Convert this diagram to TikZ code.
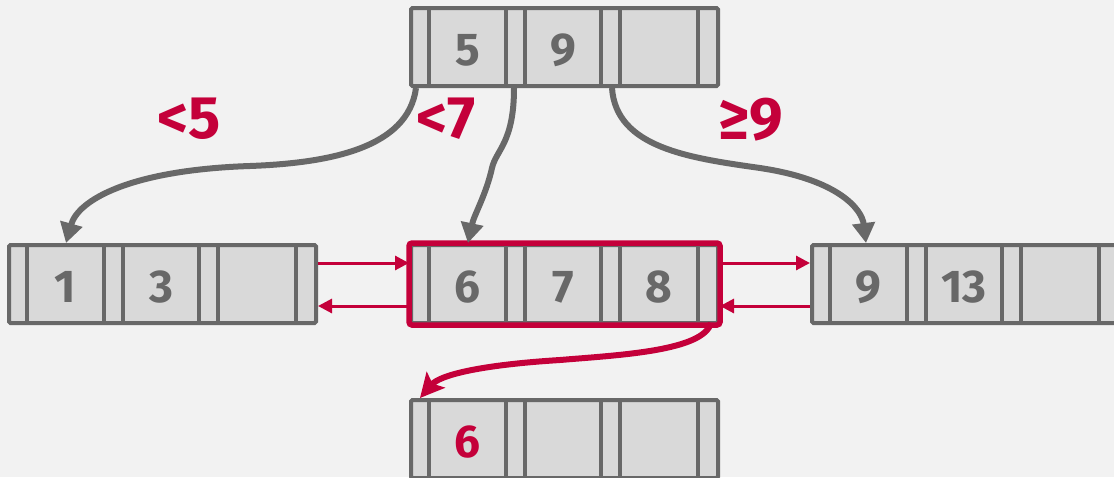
\documentclass[tikz,border=0pt]{standalone}
\usepackage{fontspec}
\setmainfont{Fira Sans}
\usetikzlibrary{calc,arrows.meta}
\definecolor{bg}{HTML}{F2F2F2}
\definecolor{cellfill}{HTML}{D9D9D9}
\definecolor{edgegray}{HTML}{686868}
\definecolor{cmured}{HTML}{C4003A}
\tikzset{
 bbox/.style={draw=edgegray, fill=cellfill, line width=4pt, minimum width=307pt, minimum height=78pt, inner sep=0pt, rounded corners=1.5pt},
 sepline/.style={draw=edgegray, line width=4pt},
 keytxt/.style={text=edgegray, font=\fontsize{46}{46}\selectfont\bfseries, inner sep=0pt},
 lbl/.style={text=cmured, font=\fontsize{60}{60}\selectfont\bfseries, inner sep=0pt},
 ptr/.style={draw=edgegray, line width=6pt, -{Triangle[length=20pt,width=22pt]}},
 sib/.style={draw=cmured, line width=3pt, -{Triangle[length=14pt,width=14pt]}},
 hl/.style={draw=cmured, line width=5.5pt, rounded corners=3pt},
 redptr/.style={draw=cmured, line width=6pt, -{Stealth[length=24pt,width=24pt,inset=5pt]}},
}
\newcommand{\btnode}[7]{%
 \node[bbox] (#1) at (#2,#3) {};
 \foreach \o in {20,97,116,192,211,289}
   \draw[sepline] ($(#1.north west)+(\o,0)$) -- ($(#1.south west)+(\o,0)$);
 \node[keytxt,text=#7] (#1-a) at ($(#1.west)+(58.5,3)$) {#4};
 \node[keytxt,text=#7] (#1-b) at ($(#1.west)+(154,3)$) {#5};
 \node[keytxt,text=#7] (#1-c) at ($(#1.west)+(250,3)$) {#6};
}
\begin{document}
\begin{tikzpicture}[x=1pt,y=-1pt]
\fill[bg] (0,0) rectangle (1114,477);
\useasboundingbox (0,0) rectangle (1114,477);
\clip (0,0) rectangle (1114,477);

\btnode{top}{564.5}{47}{5}{9}{}{edgegray}
\btnode{left}{162.5}{284}{1}{3}{}{edgegray}
\btnode{mid}{564.5}{284}{6}{7}{8}{edgegray}
\btnode{right}{965.5}{284}{9}{13}{}{edgegray}
\btnode{bot}{564.5}{439}{6}{}{}{cmured}
\draw[hl] (mid.north west) rectangle (mid.south east);

% labels
\node[lbl] (l5) at (189,119) {<5};
\node[lbl] (l7) at (446,119) {<7};
\node[lbl] (l9) at (751,120) {≥9};

% pointers from root
\coordinate (p1) at ($(top.south west)+(7,0)$);
\coordinate (p2) at ($(top.south west)+(105,0)$);
\coordinate (p3) at ($(top.south west)+(203,0)$);
\coordinate (c1) at ($(left.north west)+(59,0)$);
\coordinate (c2) at ($(mid.north west)+(59,0)$);
\coordinate (c3) at ($(right.north west)+(56,0)$);
\draw[ptr] (p1) .. controls +(-8,60) and (330,163) .. (250,166)
  .. controls (130,170) and (78,200) .. (c1);
\draw[ptr] (p2) .. controls +(0,55) and (496,150) .. (492,168)
  .. controls (486,195) and (474,215) .. (c2);
\draw[ptr] (p3) .. controls +(4,60) and (690,158) .. (760,168)
  .. controls (840,180) and (862,210) .. (c3);

% sibling pointers
\draw[sib] ($(left.east)+(0,-21)$) -- ($(mid.west)+(0,-21)$);
\draw[sib] ($(mid.west)+(0,22)$) -- ($(left.east)+(0,22)$);
\draw[sib] ($(mid.east)+(0,-21)$) -- ($(right.west)+(0,-21)$);
\draw[sib] ($(right.west)+(0,22)$) -- ($(mid.east)+(0,22)$);

% new leaf pointer
\coordinate (q1) at ($(mid.south east)+(-9,-2)$);
\coordinate (q2) at ($(bot.north west)+(11,0)$);
\draw[redptr] (q1) .. controls +(-8,28) and (620,355) .. (560,360)
  .. controls (480,365) and (440,375) .. (q2);
\end{tikzpicture}
\end{document}
